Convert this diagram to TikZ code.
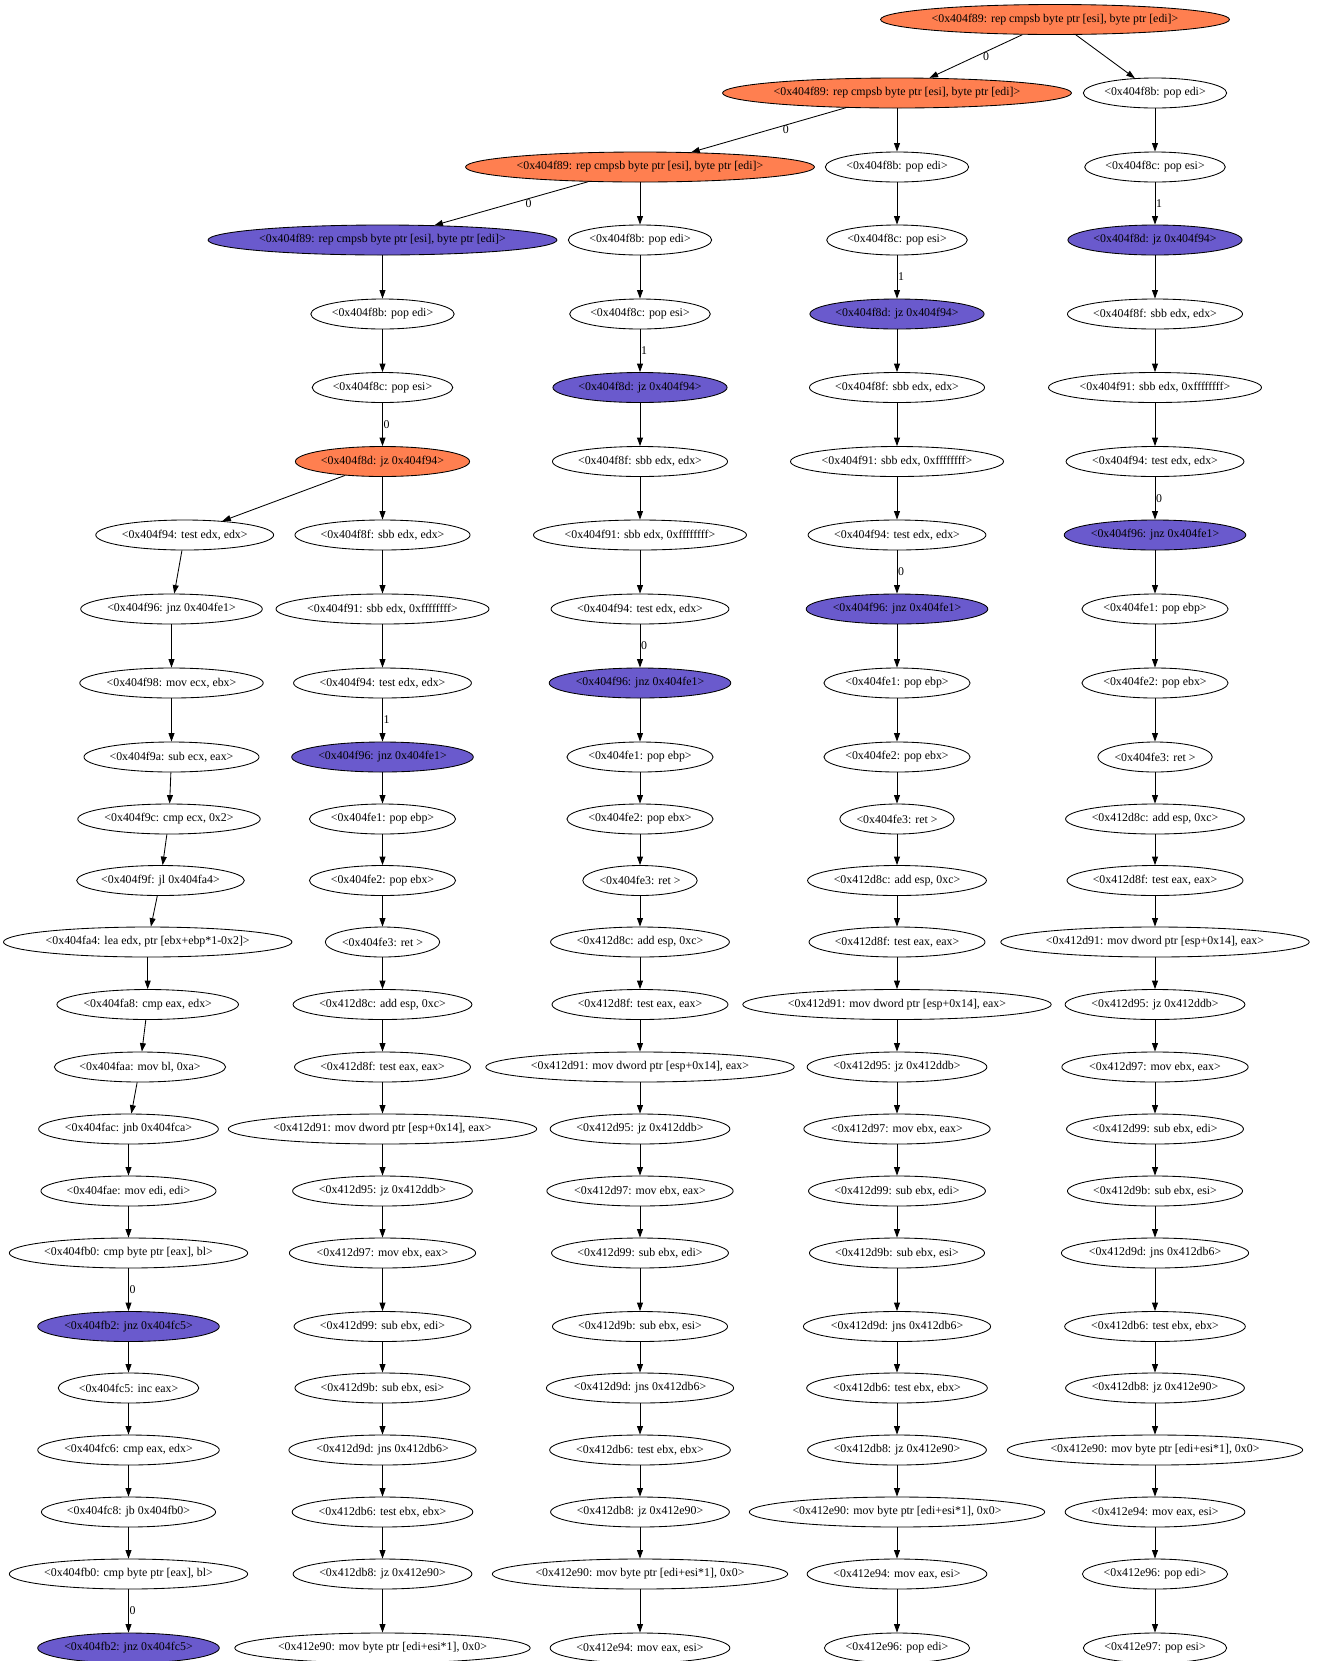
\documentclass[tikz,border=0pt]{standalone}
\usepackage{fontspec}
\setmainfont{Liberation Serif}
\usetikzlibrary{shapes.geometric,arrows.meta}

\definecolor{hot}{HTML}{FF7F50}
\definecolor{cold}{HTML}{6A5ACD}

\tikzset{
  insn/.style={draw, ellipse, inner xsep=0pt, inner ysep=0pt, minimum height=22.5pt},
  hotinsn/.style={insn, fill=hot},
  coldinsn/.style={insn, fill=cold},
  lbl/.style={anchor=west, pos=0.5, inner sep=0.5pt}
}

\begin{document}
\begin{tikzpicture}[x=0.75pt, y=-0.75pt, line width=0.64pt,
  font=\fontsize{8.9}{10}\selectfont, >={Triangle[length=6.35pt,width=4.45pt]}]
\useasboundingbox (0,0) rectangle (1319,1661);

\node[hotinsn] (a0) at (1055,19.5) {<0x404f89: rep cmpsb byte ptr [esi], byte ptr [edi]>};

% right one
\node[insn] (a1) at (1155,93) {<0x404f8b: pop edi>};
\node[insn] (a2) at (1155,167) {<0x404f8c: pop esi>};
\node[coldinsn] (a3) at (1155,240) {<0x404f8d: jz 0x404f94>};
\node[insn] (a4) at (1155,314) {<0x404f8f: sbb edx, edx>};
\node[insn] (a5) at (1155,387.5) {<0x404f91: sbb edx, 0xffffffff>};
\node[insn] (a6) at (1155,461.5) {<0x404f94: test edx, edx>};
\node[coldinsn] (a7) at (1155,535) {<0x404f96: jnz 0x404fe1>};
\node[insn] (a8) at (1155,609) {<0x404fe1: pop ebp>};
\node[insn] (a9) at (1155,683) {<0x404fe2: pop ebx>};
\node[insn] (a10) at (1155,757) {<0x404fe3: ret >};
\node[insn] (a11) at (1155,819) {<0x412d8c: add esp, 0xc>};
\node[insn] (a12) at (1155,880.5) {<0x412d8f: test eax, eax>};
\node[insn] (a13) at (1155,942) {<0x412d91: mov dword ptr [esp+0x14], eax>};
\node[insn] (a14) at (1155,1004.5) {<0x412d95: jz 0x412ddb>};
\node[insn] (a15) at (1155,1067) {<0x412d97: mov ebx, eax>};
\node[insn] (a16) at (1155,1129) {<0x412d99: sub ebx, edi>};
\node[insn] (a17) at (1155,1191) {<0x412d9b: sub ebx, esi>};
\node[insn] (a18) at (1155,1253) {<0x412d9d: jns 0x412db6>};
\node[insn] (a19) at (1155,1326.5) {<0x412db6: test ebx, ebx>};
\node[insn] (a20) at (1155,1388) {<0x412db8: jz 0x412e90>};
\node[insn] (a21) at (1155,1450) {<0x412e90: mov byte ptr [edi+esi*1], 0x0>};
\node[insn] (a22) at (1155,1512) {<0x412e94: mov eax, esi>};
\node[insn] (a23) at (1155,1574) {<0x412e96: pop edi>};
\node[insn] (a24) at (1155,1648) {<0x412e97: pop esi>};

% second from right
\node[hotinsn] (b1) at (897,93) {<0x404f89: rep cmpsb byte ptr [esi], byte ptr [edi]>};
\node[insn] (b2) at (897,167) {<0x404f8b: pop edi>};
\node[insn] (b3) at (897,240) {<0x404f8c: pop esi>};
\node[coldinsn] (b4) at (897,314) {<0x404f8d: jz 0x404f94>};
\node[insn] (b5) at (897,387.5) {<0x404f8f: sbb edx, edx>};
\node[insn] (b6) at (897,461.5) {<0x404f91: sbb edx, 0xffffffff>};
\node[insn] (b7) at (897,535) {<0x404f94: test edx, edx>};
\node[coldinsn] (b8) at (897,609) {<0x404f96: jnz 0x404fe1>};
\node[insn] (b9) at (897,683) {<0x404fe1: pop ebp>};
\node[insn] (b10) at (897,757) {<0x404fe2: pop ebx>};
\node[insn] (b11) at (897,819) {<0x404fe3: ret >};
\node[insn] (b12) at (897,880.5) {<0x412d8c: add esp, 0xc>};
\node[insn] (b13) at (897,942) {<0x412d8f: test eax, eax>};
\node[insn] (b14) at (897,1004.5) {<0x412d91: mov dword ptr [esp+0x14], eax>};
\node[insn] (b15) at (897,1067) {<0x412d95: jz 0x412ddb>};
\node[insn] (b16) at (897,1129) {<0x412d97: mov ebx, eax>};
\node[insn] (b17) at (897,1191) {<0x412d99: sub ebx, edi>};
\node[insn] (b18) at (897,1253) {<0x412d9b: sub ebx, esi>};
\node[insn] (b19) at (897,1326.5) {<0x412d9d: jns 0x412db6>};
\node[insn] (b20) at (897,1388) {<0x412db6: test ebx, ebx>};
\node[insn] (b21) at (897,1450) {<0x412db8: jz 0x412e90>};
\node[insn] (b22) at (897,1512) {<0x412e90: mov byte ptr [edi+esi*1], 0x0>};
\node[insn] (b23) at (897,1574) {<0x412e94: mov eax, esi>};
\node[insn] (b24) at (897,1648) {<0x412e96: pop edi>};

% middle
\node[hotinsn] (c2) at (640,167) {<0x404f89: rep cmpsb byte ptr [esi], byte ptr [edi]>};
\node[insn] (c3) at (640,240) {<0x404f8b: pop edi>};
\node[insn] (c4) at (640,314) {<0x404f8c: pop esi>};
\node[coldinsn] (c5) at (640,387.5) {<0x404f8d: jz 0x404f94>};
\node[insn] (c6) at (640,461.5) {<0x404f8f: sbb edx, edx>};
\node[insn] (c7) at (640,535) {<0x404f91: sbb edx, 0xffffffff>};
\node[insn] (c8) at (640,609) {<0x404f94: test edx, edx>};
\node[coldinsn] (c9) at (640,683) {<0x404f96: jnz 0x404fe1>};
\node[insn] (c10) at (640,757) {<0x404fe1: pop ebp>};
\node[insn] (c11) at (640,819) {<0x404fe2: pop ebx>};
\node[insn] (c12) at (640,880.5) {<0x404fe3: ret >};
\node[insn] (c13) at (640,942) {<0x412d8c: add esp, 0xc>};
\node[insn] (c14) at (640,1004.5) {<0x412d8f: test eax, eax>};
\node[insn] (c15) at (640,1067) {<0x412d91: mov dword ptr [esp+0x14], eax>};
\node[insn] (c16) at (640,1129) {<0x412d95: jz 0x412ddb>};
\node[insn] (c17) at (640,1191) {<0x412d97: mov ebx, eax>};
\node[insn] (c18) at (640,1253) {<0x412d99: sub ebx, edi>};
\node[insn] (c19) at (640,1326.5) {<0x412d9b: sub ebx, esi>};
\node[insn] (c20) at (640,1388) {<0x412d9d: jns 0x412db6>};
\node[insn] (c21) at (640,1450) {<0x412db6: test ebx, ebx>};
\node[insn] (c22) at (640,1512) {<0x412db8: jz 0x412e90>};
\node[insn] (c23) at (640,1574) {<0x412e90: mov byte ptr [edi+esi*1], 0x0>};
\node[insn] (c24) at (640,1648) {<0x412e94: mov eax, esi>};

% second from left
\node[coldinsn] (d3) at (382.5,240) {<0x404f89: rep cmpsb byte ptr [esi], byte ptr [edi]>};
\node[insn] (d4) at (382.5,314) {<0x404f8b: pop edi>};
\node[insn] (d5) at (382.5,387.5) {<0x404f8c: pop esi>};
\node[hotinsn] (d6) at (382.5,461.5) {<0x404f8d: jz 0x404f94>};
\node[insn] (d7) at (382.5,535) {<0x404f8f: sbb edx, edx>};
\node[insn] (d8) at (382.5,609) {<0x404f91: sbb edx, 0xffffffff>};
\node[insn] (d9) at (382.5,683) {<0x404f94: test edx, edx>};
\node[coldinsn] (d10) at (382.5,757) {<0x404f96: jnz 0x404fe1>};
\node[insn] (d11) at (382.5,819) {<0x404fe1: pop ebp>};
\node[insn] (d12) at (382.5,880.5) {<0x404fe2: pop ebx>};
\node[insn] (d13) at (382.5,942) {<0x404fe3: ret >};
\node[insn] (d14) at (382.5,1004.5) {<0x412d8c: add esp, 0xc>};
\node[insn] (d15) at (382.5,1067) {<0x412d8f: test eax, eax>};
\node[insn] (d16) at (382.5,1129) {<0x412d91: mov dword ptr [esp+0x14], eax>};
\node[insn] (d17) at (382.5,1191) {<0x412d95: jz 0x412ddb>};
\node[insn] (d18) at (382.5,1253) {<0x412d97: mov ebx, eax>};
\node[insn] (d19) at (382.5,1326.5) {<0x412d99: sub ebx, edi>};
\node[insn] (d20) at (382.5,1388) {<0x412d9b: sub ebx, esi>};
\node[insn] (d21) at (382.5,1450) {<0x412d9d: jns 0x412db6>};
\node[insn] (d22) at (382.5,1512) {<0x412db6: test ebx, ebx>};
\node[insn] (d23) at (382.5,1574) {<0x412db8: jz 0x412e90>};
\node[insn] (d24) at (382.5,1648) {<0x412e90: mov byte ptr [edi+esi*1], 0x0>};

% left one
\node[insn] (e7) at (184.7,535) {<0x404f94: test edx, edx>};
\node[insn] (e8) at (171.5,609) {<0x404f96: jnz 0x404fe1>};
\node[insn] (e9) at (171.5,683) {<0x404f98: mov ecx, ebx>};
\node[insn] (e10) at (171.5,757) {<0x404f9a: sub ecx, eax>};
\node[insn] (e11) at (169,819) {<0x404f9c: cmp ecx, 0x2>};
\node[insn] (e12) at (160.5,880.5) {<0x404f9f: jl 0x404fa4>};
\node[insn] (e13) at (147.7,942) {<0x404fa4: lea edx, ptr [ebx+ebp*1-0x2]>};
\node[insn] (e14) at (147.7,1004.5) {<0x404fa8: cmp eax, edx>};
\node[insn] (e15) at (140,1067) {<0x404faa: mov bl, 0xa>};
\node[insn] (e16) at (128.5,1129) {<0x404fac: jnb 0x404fca>};
\node[insn] (e17) at (128.5,1191) {<0x404fae: mov edi, edi>};
\node[insn] (e18) at (128.5,1253) {<0x404fb0: cmp byte ptr [eax], bl>};
\node[coldinsn] (e19) at (128.5,1326.5) {<0x404fb2: jnz 0x404fc5>};
\node[insn] (e20) at (128.5,1388) {<0x404fc5: inc eax>};
\node[insn] (e21) at (128.5,1450) {<0x404fc6: cmp eax, edx>};
\node[insn] (e22) at (128.5,1512) {<0x404fc8: jb 0x404fb0>};
\node[insn] (e23) at (128.5,1574) {<0x404fb0: cmp byte ptr [eax], bl>};
\node[coldinsn] (e24) at (128.5,1648) {<0x404fb2: jnz 0x404fc5>};

% edges
\draw[->] (a0) -- node[lbl, xshift=4.5pt] {0} (b1);
\draw[->] (a0) -- (a1);
\draw[->] (a1) -- (a2);
\draw[->] (a2) -- node[lbl] {1} (a3);
\draw[->] (a3) -- (a4);
\draw[->] (a4) -- (a5);
\draw[->] (a5) -- (a6);
\draw[->] (a6) -- node[lbl] {0} (a7);
\draw[->] (a7) -- (a8);
\draw[->] (a8) -- (a9);
\draw[->] (a9) -- (a10);
\draw[->] (a10) -- (a11);
\draw[->] (a11) -- (a12);
\draw[->] (a12) -- (a13);
\draw[->] (a13) -- (a14);
\draw[->] (a14) -- (a15);
\draw[->] (a15) -- (a16);
\draw[->] (a16) -- (a17);
\draw[->] (a17) -- (a18);
\draw[->] (a18) -- (a19);
\draw[->] (a19) -- (a20);
\draw[->] (a20) -- (a21);
\draw[->] (a21) -- (a22);
\draw[->] (a22) -- (a23);
\draw[->] (a23) -- (a24);

\draw[->] (b1) -- node[lbl, xshift=10pt] {0} (c2);
\draw[->] (b1) -- (b2);
\draw[->] (b2) -- (b3);
\draw[->] (b3) -- node[lbl] {1} (b4);
\draw[->] (b4) -- (b5);
\draw[->] (b5) -- (b6);
\draw[->] (b6) -- (b7);
\draw[->] (b7) -- node[lbl] {0} (b8);
\draw[->] (b8) -- (b9);
\draw[->] (b9) -- (b10);
\draw[->] (b10) -- (b11);
\draw[->] (b11) -- (b12);
\draw[->] (b12) -- (b13);
\draw[->] (b13) -- (b14);
\draw[->] (b14) -- (b15);
\draw[->] (b15) -- (b16);
\draw[->] (b16) -- (b17);
\draw[->] (b17) -- (b18);
\draw[->] (b18) -- (b19);
\draw[->] (b19) -- (b20);
\draw[->] (b20) -- (b21);
\draw[->] (b21) -- (b22);
\draw[->] (b22) -- (b23);
\draw[->] (b23) -- (b24);

\draw[->] (c2) -- node[lbl, xshift=10pt] {0} (d3);
\draw[->] (c2) -- (c3);
\draw[->] (c3) -- (c4);
\draw[->] (c4) -- node[lbl] {1} (c5);
\draw[->] (c5) -- (c6);
\draw[->] (c6) -- (c7);
\draw[->] (c7) -- (c8);
\draw[->] (c8) -- node[lbl] {0} (c9);
\draw[->] (c9) -- (c10);
\draw[->] (c10) -- (c11);
\draw[->] (c11) -- (c12);
\draw[->] (c12) -- (c13);
\draw[->] (c13) -- (c14);
\draw[->] (c14) -- (c15);
\draw[->] (c15) -- (c16);
\draw[->] (c16) -- (c17);
\draw[->] (c17) -- (c18);
\draw[->] (c18) -- (c19);
\draw[->] (c19) -- (c20);
\draw[->] (c20) -- (c21);
\draw[->] (c21) -- (c22);
\draw[->] (c22) -- (c23);
\draw[->] (c23) -- (c24);

\draw[->] (d3) -- (d4);
\draw[->] (d4) -- (d5);
\draw[->] (d5) -- node[lbl] {0} (d6);
\draw[->] (d6) -- (e7);
\draw[->] (d6) -- (d7);
\draw[->] (d7) -- (d8);
\draw[->] (d8) -- (d9);
\draw[->] (d9) -- node[lbl] {1} (d10);
\draw[->] (d10) -- (d11);
\draw[->] (d11) -- (d12);
\draw[->] (d12) -- (d13);
\draw[->] (d13) -- (d14);
\draw[->] (d14) -- (d15);
\draw[->] (d15) -- (d16);
\draw[->] (d16) -- (d17);
\draw[->] (d17) -- (d18);
\draw[->] (d18) -- (d19);
\draw[->] (d19) -- (d20);
\draw[->] (d20) -- (d21);
\draw[->] (d21) -- (d22);
\draw[->] (d22) -- (d23);
\draw[->] (d23) -- (d24);

\draw[->] (e7) -- (e8);
\draw[->] (e8) -- (e9);
\draw[->] (e9) -- (e10);
\draw[->] (e10) -- (e11);
\draw[->] (e11) -- (e12);
\draw[->] (e12) -- (e13);
\draw[->] (e13) -- (e14);
\draw[->] (e14) -- (e15);
\draw[->] (e15) -- (e16);
\draw[->] (e16) -- (e17);
\draw[->] (e17) -- (e18);
\draw[->] (e18) -- node[lbl] {0} (e19);
\draw[->] (e19) -- (e20);
\draw[->] (e20) -- (e21);
\draw[->] (e21) -- (e22);
\draw[->] (e22) -- (e23);
\draw[->] (e23) -- node[lbl] {0} (e24);

\end{tikzpicture}
\end{document}
